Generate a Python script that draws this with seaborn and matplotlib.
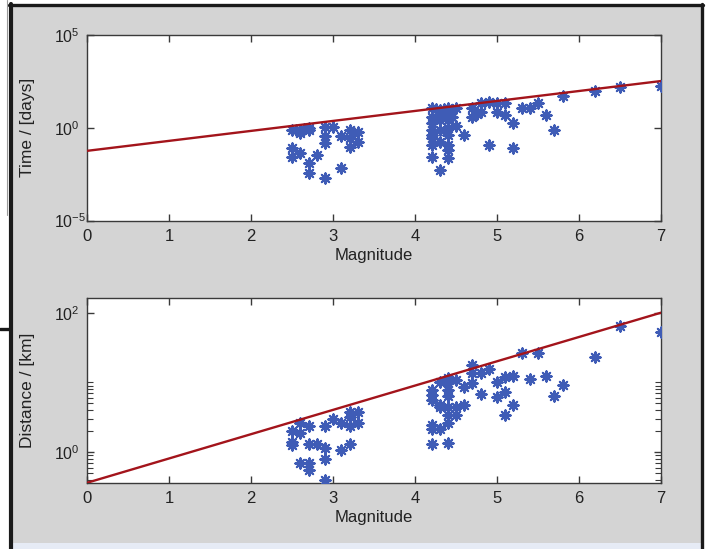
import numpy as np
import matplotlib
matplotlib.use("Agg")
import matplotlib.pyplot as plt
import seaborn as sns
from matplotlib.lines import Line2D
from matplotlib.patches import Rectangle
from matplotlib.ticker import FixedLocator, FixedFormatter, NullLocator, NullFormatter

# ---------------- data ----------------
# top panel: magnitude vs log10(time / days)
mag_time = [2.5, 2.55, 2.6, 2.65, 2.7, 2.6, 2.7,
            2.5, 2.6, 2.5, 2.7, 2.8, 2.7, 2.9, 3.1,
            2.9, 3.0, 2.9, 2.9, 3.1, 3.2, 3.2, 3.3, 3.3, 3.2, 3.25,
            4.2, 4.2, 4.2, 4.2, 4.2, 4.2, 4.2, 4.2,
            4.3, 4.3, 4.3, 4.3, 4.3, 4.3,
            4.4, 4.4, 4.4, 4.4, 4.4, 4.4, 4.4, 4.4,
            4.45, 4.45, 4.5, 4.35, 4.25, 4.5,
            4.6, 4.7, 4.7, 4.75, 4.8, 4.8, 4.9, 4.9, 5.0, 5.0,
            5.1, 5.1, 5.2, 5.2, 5.3, 5.4, 5.5, 5.6, 5.7, 5.8,
            6.2, 6.5, 7.0]
log_time = [-0.1, -0.12, -0.12, -0.05, -0.03, -0.3, -0.1,
            -1.08, -1.35, -1.6, -1.92, -1.47, -2.46, -2.68, -2.16,
            0.05, 0.05, -0.45, -0.84, -0.45, -0.12, -0.57, -0.2, -0.75, -1.02, -0.3,
            1.04, 0.59, 0.24, -0.12, -0.39, -0.57, -0.93, -1.56,
            0.95, 0.77, 0.42, -0.12, -0.75, -2.28,
            1.04, 0.77, 0.42, -0.03, -0.39, -0.93, -1.2, -1.65,
            0.95, 0.59, 0.09, 1.0, 1.0, 1.08,
            -0.39, 1.04, 0.59, 0.77, 1.31, 0.86, 1.4, -0.93, 1.31, 0.86,
            1.31, 0.68, 0.27, -1.08, 1.04, 1.04, 1.35, 0.68, -0.12, 1.71,
            1.98, 2.21, 2.25]
fit_mag_time = [0.0, 7.0]
fit_log_time = [-1.24, 2.52]

# bottom panel: magnitude vs log10(distance / km)
mag_dist = [2.5, 2.5, 2.5, 2.6, 2.6, 2.6, 2.7, 2.7, 2.7, 2.7, 2.8,
            2.9, 2.9, 2.9, 2.9, 3.0, 3.1, 3.1, 3.2, 3.2, 3.2, 3.2, 3.3, 3.3,
            4.2, 4.2, 4.2, 4.2, 4.2, 4.2,
            4.3, 4.3, 4.3, 4.3,
            4.4, 4.4, 4.4, 4.4, 4.4, 4.4, 4.4, 4.4,
            4.5, 4.5, 4.5, 4.6, 4.6, 4.7, 4.7, 4.7, 4.8, 4.8, 4.9,
            5.0, 5.0, 5.1, 5.1, 5.1, 5.2, 5.2, 5.3, 5.4, 5.5, 5.6, 5.7, 5.8,
            6.2, 6.5, 7.0]
log_dist = [0.30, 0.15, 0.10, 0.42, 0.27, -0.15, 0.37, 0.12, -0.15, -0.25, 0.12,
            0.37, 0.06, -0.10, -0.40, 0.47, 0.42, 0.03, 0.58, 0.37, 0.12, 0.51, 0.57, 0.42,
            0.89, 0.82, 0.75, 0.39, 0.34, 0.12,
            1.01, 0.68, 0.34, 0.65,
            1.06, 0.99, 0.89, 0.80, 0.65, 0.53, 0.42, 0.13,
            1.04, 0.65, 0.53, 0.94, 0.68, 1.25, 0.99, 1.13, 1.13, 0.84, 1.20,
            1.01, 0.79, 1.08, 0.87, 0.53, 1.09, 0.68, 1.42, 1.05, 1.42, 1.09, 0.81, 0.96,
            1.37, 1.81, 1.73]
fit_mag_dist = [0.0, 7.0]
fit_log_dist = [-0.436, 2.0]

time_ticks = [1e-5, 1e0, 1e5]
time_tick_labels = ["$10^{-5}$", "$10^{0}$", "$10^{5}$"]
dist_ticks = [1e0, 1e2]
dist_tick_labels = ["$10^{0}$", "$10^{2}$"]
dist_minor = [0.4, 0.5, 0.6, 0.7, 0.8, 0.9, 2, 3, 4, 5, 6, 7, 8, 9, 10]
mag_ticks = [0, 1, 2, 3, 4, 5, 6, 7]

# ---------------- style ----------------
sns.set_theme(style="white")
plt.rcParams["font.family"] = ["Liberation Sans", "DejaVu Sans"]
plt.rcParams["mathtext.fontset"] = "custom"
plt.rcParams["mathtext.rm"] = "Liberation Sans"
plt.rcParams["mathtext.it"] = "Liberation Sans"

W, H = 709, 549
fig = plt.figure(figsize=(W / 100, H / 100), dpi=100)
fig.patch.set_facecolor("white")

def fx(px):
    return px / W

def fy(py):
    return 1 - py / H

# gray figure window background and frame
fig.add_artist(Rectangle((fx(12), fy(543)), fx(701) - fx(12), fy(6) - fy(543),
                         transform=fig.transFigure, facecolor="#d4d4d4",
                         edgecolor="none", zorder=-10))
fig.add_artist(Rectangle((fx(12), fy(549)), fx(701) - fx(12), fy(543) - fy(549),
                         transform=fig.transFigure, facecolor="#e6ebf5",
                         edgecolor="none", zorder=-10))
fig.add_artist(Line2D([fx(10.5), fx(10.5)], [fy(4), fy(549)], transform=fig.transFigure,
                      color="#1a1a1a", lw=3.0))
fig.add_artist(Line2D([fx(9), fx(703)], [fy(5), fy(5)], transform=fig.transFigure,
                      color="#1a1a1a", lw=2.4))
fig.add_artist(Line2D([fx(701.5), fx(701.5)], [fy(4), fy(549)], transform=fig.transFigure,
                      color="#1a1a1a", lw=2.4))
fig.add_artist(Line2D([fx(0), fx(10)], [fy(329), fy(329)], transform=fig.transFigure,
                      color="#1a1a1a", lw=2.4))
fig.add_artist(Line2D([fx(7), fx(7)], [fy(0), fy(215)], transform=fig.transFigure,
                      color="#9a9a9a", lw=0.8))

blue = "#3f5cb6"
red = "#a3141b"
spine_c = "#3a3a3a"

ax1 = fig.add_axes([fx(87.3), fy(220.6), fx(661) - fx(87.3), fy(35) - fy(220.6)])
ax2 = fig.add_axes([fx(87.3), fy(482.7), fx(661) - fx(87.3), fy(298.3) - fy(482.7)])

panels = [
    (ax1, mag_time, log_time, fit_mag_time, fit_log_time, "Time / [days]"),
    (ax2, mag_dist, log_dist, fit_mag_dist, fit_log_dist, "Distance / [km]"),
]

for ax, mx, ly, fmx, fly, ylab in panels:
    ax.set_facecolor("white")
    ax.set_yscale("log")
    sns.scatterplot(x=mx, y=np.power(10.0, ly), ax=ax, marker=(8, 2, 0),
                    color=blue, s=55, linewidth=1.5, zorder=3)
    sns.lineplot(x=fmx, y=np.power(10.0, fly), ax=ax, color=red, linewidth=1.7,
                 zorder=4)
    ax.set_xlim(0, 7)
    ax.set_xticks(mag_ticks)
    ax.set_xticklabels([str(t) for t in mag_ticks])
    ax.set_xlabel("Magnitude", fontsize=12, color="#222222", labelpad=3)
    ax.set_ylabel(ylab, fontsize=12.5, color="#222222")
    ax.yaxis.set_label_coords(-0.092, 0.5)
    for sp in ax.spines.values():
        sp.set_color(spine_c)
        sp.set_linewidth(1.0)
    ax.tick_params(axis="both", which="both", direction="in",
                   top=True, right=True, bottom=True, left=True,
                   color=spine_c, labelsize=12, labelcolor="#222222")
    ax.tick_params(axis="both", which="major", length=5, width=1.0)
    ax.tick_params(axis="both", which="minor", length=4, width=0.8)
    ax.tick_params(axis="x", pad=6)
    ax.tick_params(axis="y", pad=24)
    ax.grid(False)

ax1.set_ylim(1e-5, 1e5)
ax1.yaxis.set_major_locator(FixedLocator(time_ticks))
ax1.yaxis.set_major_formatter(FixedFormatter(time_tick_labels))
ax1.yaxis.set_minor_locator(NullLocator())
ax1.xaxis.set_minor_locator(NullLocator())

ax2.set_ylim(10 ** -0.436, 10 ** 2.206)
ax2.yaxis.set_major_locator(FixedLocator(dist_ticks))
ax2.yaxis.set_major_formatter(FixedFormatter(dist_tick_labels))
ax2.yaxis.set_minor_locator(FixedLocator(dist_minor))
ax2.yaxis.set_minor_formatter(NullFormatter())
ax2.xaxis.set_minor_locator(NullLocator())

for ax in (ax1, ax2):
    for lab in ax.get_yticklabels():
        lab.set_horizontalalignment("left")
        lab.set_fontsize(11.5)

fig.savefig("out.png", dpi=100)
